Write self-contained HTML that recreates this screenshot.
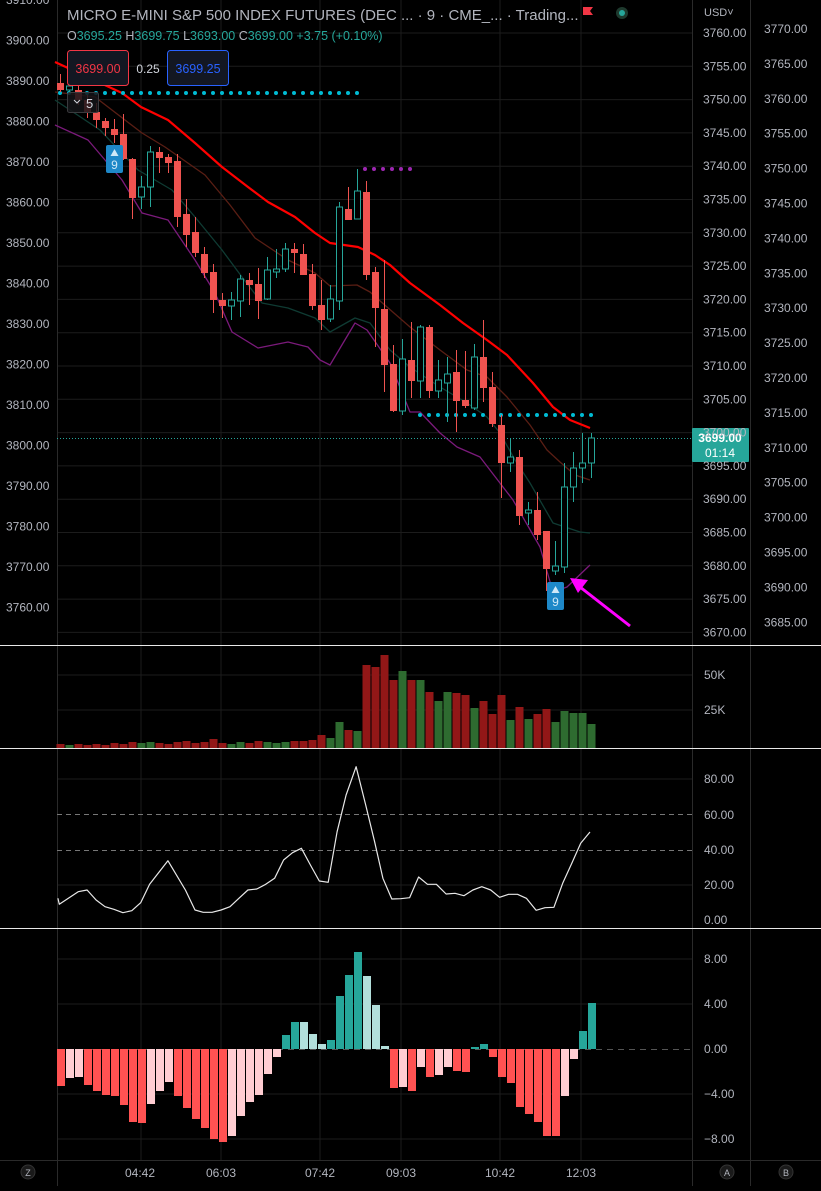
<!DOCTYPE html>
<html><head><meta charset="utf-8"><style>
html,body{margin:0;padding:0;background:#000;}
body{width:821px;height:1186px;overflow:hidden;font-family:"Liberation Sans",sans-serif;}
svg text{font-family:"Liberation Sans",sans-serif;}
</style></head><body>
<svg id="s" width="821" height="1186" xmlns="http://www.w3.org/2000/svg">
<rect width="821" height="1186" fill="#000"/>
<g id="grid"></g>
<g id="main"></g>
<g id="ax" font-size="12" fill="#b2b5be"></g>
<text x="67" y="20" font-size="15" fill="#b2b5be">MICRO E-MINI S&amp;P 500 INDEX FUTURES (DEC ...  · 9 · CME_...  · Trading...</text>
<text x="67" y="40" font-size="12.5" fill="#b2b5be">O<tspan fill="#26a69a">3695.25</tspan> H<tspan fill="#26a69a">3699.75</tspan> L<tspan fill="#26a69a">3693.00</tspan> C<tspan fill="#26a69a">3699.00</tspan> <tspan fill="#26a69a">+3.75 (+0.10%)</tspan></text>
<rect x="67.5" y="50.5" width="61" height="35" rx="3" fill="#131722" stroke="#f23645"/>
<text x="98" y="73" font-size="12.5" fill="#f23645" text-anchor="middle">3699.00</text>
<text x="148" y="73" font-size="12" fill="#d1d4dc" text-anchor="middle">0.25</text>
<rect x="167.5" y="50.5" width="61" height="35" rx="3" fill="#131722" stroke="#2962ff"/>
<text x="198" y="73" font-size="12.5" fill="#2962ff" text-anchor="middle">3699.25</text>
<rect x="67.5" y="92.5" width="31" height="20" rx="2" fill="rgba(20,20,24,0.85)" stroke="#3a3a3e"/>
<path d="M74 100 l3 3 l3 -3" stroke="#d1d4dc" fill="none"/>
<text x="86" y="108" font-size="13" fill="#d1d4dc">5</text>
<path d="M583 7 h10 l-3 4 l3 4 h-10 z" fill="#f23645"/>
<circle cx="622" cy="13" r="6" fill="#1e3a2e"/><circle cx="622" cy="13" r="3" fill="#26a69a"/>
<text x="704" y="16" font-size="11" fill="#b2b5be">USD˅</text>
</svg>
<script>
const s=document.getElementById('main'),g=document.getElementById('grid'),ax=document.getElementById('ax');
const NS='http://www.w3.org/2000/svg';
function el(p,t,a){const e=document.createElementNS(NS,t);for(const k in a)e.setAttribute(k,a[k]);p.appendChild(e);return e;}
function tx(p,x,y,t,a){const e=el(p,'text',Object.assign({x:x,y:y},a||{}));e.textContent=t;return e;}
const GC='#1c1c1c';
for(let k=0;k<19;k++){const y=33+33.3*k;el(g,'line',{x1:57,x2:692,y1:y,y2:y,stroke:GC});}
[141,221,320,401,500,581].forEach(x=>el(g,'line',{x1:x,x2:x,y1:0,y2:1160,stroke:GC}));
[675,710].forEach(y=>el(g,'line',{x1:57,x2:692,y1:y,y2:y,stroke:GC}));
[779,885].forEach(y=>el(g,'line',{x1:57,x2:692,y1:y,y2:y,stroke:GC}));
[959,1004,1094,1139].forEach(y=>el(g,'line',{x1:57,x2:692,y1:y,y2:y,stroke:GC}));
[57,692,750].forEach(x=>el(g,'line',{x1:x+.5,x2:x+.5,y1:0,y2:1186,stroke:'#2a2a2a'}));
el(g,'line',{x1:0,x2:821,y1:1160.5,y2:1160.5,stroke:'#2a2a2a'});
[645,748,928].forEach(y=>el(g,'line',{x1:0,x2:821,y1:y+.5,y2:y+.5,stroke:'#e8e8e8'}));
for(let k=0;k<16;k++){const p=3910-10*k;tx(ax,6,40.5*k+4,p.toFixed(2));}
for(let k=0;k<19;k++){const p=3760-5*k;tx(ax,703,33+33.3*k+4,p.toFixed(2));}
for(let k=0;k<18;k++){const p=3770-5*k;tx(ax,764,29+34.9*k+4,p.toFixed(2));}
tx(ax,704,679,'50K');tx(ax,704,714,'25K');
[['80.00',779],['60.00',815],['40.00',850],['20.00',885],['0.00',920]].forEach(a=>tx(ax,704,a[1]+4,a[0]));
[['8.00',959],['4.00',1004],['0.00',1049],['−4.00',1094],['−8.00',1139]].forEach(a=>tx(ax,704,a[1]+4,a[0]));
[['04:42',140],['06:03',221],['07:42',320],['09:03',401],['10:42',500],['12:03',581]].forEach(a=>tx(ax,a[1],1177,a[0],{'text-anchor':'middle'}));
[['Z',28],['A',727],['B',786]].forEach(a=>{el(ax,'circle',{cx:a[1],cy:1172,r:7,fill:'#1a1a1a',stroke:'#333'});tx(ax,a[1],1176,a[0],{'text-anchor':'middle','font-size':9});});
function pl(pts,c,w){el(s,'polyline',{points:pts.map(p=>p.join(',')).join(' '),fill:'none',stroke:c,'stroke-width':w,'stroke-linejoin':'round'});}
pl([[55,125],[88,140],[122,180],[142,213],[168,220],[195,260],[215,293],[232,332],[258,348],[288,342],[308,347],[320,360],[330,365],[355,323],[367,330],[390,363],[410,412],[420,412],[440,433],[457,447],[480,457],[513,500],[540,547],[553,592],[567,587],[590,565]],'#7b1a7b',1.3);
pl([[55,100],[100,130],[138,170],[172,190],[195,217],[222,250],[242,277],[262,303],[288,308],[315,318],[330,332],[355,318],[370,323],[390,350],[410,367],[440,387],[467,403],[487,417],[500,433],[515,460],[530,483],[553,523],[580,532],[590,533]],'#0f3b33',1.3);
pl([[55,92],[95,97],[142,133],[165,147],[205,175],[230,205],[255,238],[288,260],[315,273],[330,286],[357,285],[370,292],[387,307],[410,327],[440,350],[467,370],[487,377],[507,397],[530,425],[547,450],[560,462],[575,475],[590,480]],'#5a1e14',1.3);
pl([[55,62],[122,93],[141,107],[168,120],[195,143],[222,167],[248,187],[268,202],[295,217],[315,233],[330,243],[358,247],[375,255],[390,265],[410,283],[440,305],[463,323],[487,340],[507,355],[533,383],[553,407],[570,420],[590,428]],'#ff0000',2.2);
for(let x=60;x<=358;x+=9)el(s,'circle',{cx:x,cy:93,r:2,fill:'#00bcd4'});
for(let x=420;x<=592;x+=9)el(s,'circle',{cx:x,cy:415,r:2,fill:'#00bcd4'});
for(let x=365;x<=411;x+=9)el(s,'circle',{cx:x,cy:169,r:2,fill:'#9c27b0'});
el(s,'line',{x1:57,x2:692,y1:438.5,y2:438.5,stroke:'#26a69a','stroke-dasharray':'1,2'});
const C=[[83,90,74,92,0],[90,86,80,95,1],[90,100,85,105,0],[100,112,95,118,0],[112,120,103,128,0],[121,128,118,136,0],[129,135,119,143,0],[134,159,114,160,0],[159,198,158,219,0],[197,187,176,209,1],[187,152,146,207,1],[152,158,147,173,0],[157,163,154,173,0],[161,217,154,227,0],[214,235,199,247,0],[232,253,217,257,0],[254,273,247,278,0],[272,300,264,313,0],[300,306,293,318,0],[306,300,292,320,1],[301,279,275,317,1],[280,285,273,305,0],[284,301,268,319,0],[299,270,257,300,1],[272,269,249,278,1],[269,249,243,272,1],[249,253,243,273,0],[254,275,244,275,0],[274,306,264,310,0],[305,320,280,330,0],[319,299,285,322,1],[301,207,202,310,1],[209,220,187,220,0],[219,191,169,219,1],[192,275,181,280,0],[272,308,267,347,0],[309,365,260,392,0],[364,411,345,412,0],[411,359,339,415,1],[360,381,322,398,0],[381,327,325,398,1],[327,391,325,398,0],[391,380,360,398,1],[383,374,357,422,1],[372,401,350,432,0],[400,406,351,408,0],[408,357,344,410,1],[357,388,320,402,0],[387,424,372,427,0],[425,463,415,498,0],[463,457,438,472,1],[457,516,450,525,0],[513,510,502,525,1],[510,535,492,540,0],[531,569,531,591,0],[571,566,541,575,1],[567,487,463,573,1],[487,468,452,502,1],[468,463,433,483,1],[463,438,433,478,1]];
C.forEach((c,i)=>{const x=60+9*i,up=c[4],col=up?'#26a69a':'#ef5350';const t=Math.min(c[0],c[1]),b=Math.max(c[0],c[1]);
el(s,'line',{x1:x+.5,x2:x+.5,y1:c[2],y2:c[3],stroke:col});
if(up)el(s,'rect',{x:x-2.5,y:t,width:6,height:Math.max(b-t,1.5),fill:'#000',stroke:col});
else el(s,'rect',{x:x-3,y:t,width:7,height:Math.max(b-t,2),fill:col});});
const V0=[4,3,4,3,4,3,5,4,6,5,6,5,4,6,7,5,6,9,5,4,6,5,7,6,5,6,7];
const V1=[741,740,735,738,722,730,731,665,667,655,680,671,680,680,692,701,692,693,695,708,701,714,695,720,707,719,714,709,722,711,713,713,724];
C.forEach((c,i)=>{const x=60+9*i;const top=i<27?748-V0[i]:V1[i-27];el(s,'rect',{x:x-3.5,y:top,width:8,height:748-top,fill:c[4]?'#2e6b30':'#921717'});});
el(s,'line',{x1:57,x2:692,y1:814.5,y2:814.5,stroke:'#777','stroke-dasharray':'5,4'});
el(s,'line',{x1:57,x2:692,y1:850.5,y2:850.5,stroke:'#777','stroke-dasharray':'5,4'});
const R=[[8,445],[12,463],[65,425],[90,420],[115,450],[140,470],[165,478],[190,488],[215,482],[240,458],[265,403],[316,332],[365,420],[392,480],[415,487],[440,487],[465,480],[490,470],[515,445],[540,420],[565,417],[590,403],[615,385],[640,330],[665,308],[690,295],[715,345],[740,393],[765,397],[790,245],[815,135],[843,50],[870,165],[895,275],[918,385],[943,447],[968,446],[993,443],[1018,381],[1043,403],[1068,403],[1095,432],[1120,430],[1145,437],[1170,420],[1195,410],[1220,420],[1245,442],[1270,433],[1295,433],[1320,445],[1347,481],[1372,473],[1397,472],[1422,398],[1447,340],[1472,280],[1498,246]];
pl(R.map(p=>[(55+p[0]/2.8).toFixed(1),(750+p[1]/3).toFixed(1)]),'#e8e8e8',1.2);
el(s,'line',{x1:57,x2:692,y1:1049.5,y2:1049.5,stroke:'#555','stroke-dasharray':'6,5'});
const H=[[1086,'r'],[1078,'p'],[1077,'p'],[1085,'r'],[1091,'r'],[1095,'r'],[1096,'r'],[1105,'r'],[1122,'r'],[1123,'r'],[1104,'p'],[1091,'p'],[1082,'p'],[1096,'r'],[1108,'r'],[1119,'r'],[1128,'r'],[1139,'r'],[1142,'r'],[1136,'p'],[1116,'p'],[1102,'p'],[1095,'p'],[1074,'p'],[1057,'p'],[1035,'t'],[1022,'t'],[1022,'l'],[1034,'l'],[1044,'l'],[1040,'t'],[996,'t'],[975,'t'],[952,'t'],[976,'l'],[1005,'l'],[1046,'l'],[1088,'r'],[1087,'p'],[1091,'r'],[1067,'p'],[1077,'r'],[1075,'p'],[1067,'p'],[1071,'r'],[1072,'r'],[1047,'t'],[1044,'t'],[1057,'r'],[1077,'r'],[1083,'r'],[1107,'r'],[1114,'r'],[1122,'r'],[1136,'r'],[1136,'r'],[1096,'p'],[1059,'p'],[1031,'t'],[1003,'t']];
const HC={r:'#ff5252',p:'#ffcdd2',t:'#26a69a',l:'#b2dfdb'};
H.forEach((h,i)=>{const x=61+9*i,y=h[0],z=1049;el(s,'rect',{x:x-4,y:Math.min(y,z),width:8,height:Math.abs(y-z),fill:HC[h[1]]});});
el(s,'rect',{x:692,y:428,width:57,height:34,fill:'#26a69a',rx:1});
tx(s,720,442,'3699.00',{'font-size':12,fill:'#fff','text-anchor':'middle','font-weight':'bold'});
tx(s,720,457,'01:14',{'font-size':12,fill:'#fff','text-anchor':'middle'});
function badge(x,y){el(s,'rect',{x:x,y:y,width:17,height:28,rx:2,fill:'#1e88c8'});el(s,'path',{d:`M${x+8.5} ${y+4} l4 7 h-8 z`,fill:'#cfe8f7'});tx(s,x+8.5,y+24,'9',{'font-size':12,fill:'#cfe8f7','text-anchor':'middle'});}
badge(106,145);badge(547,582);
el(s,'line',{x1:630,y1:626,x2:580,y2:587,stroke:'#ff00ff','stroke-width':3});
el(s,'path',{d:'M570 578 L588 580 L578 593 Z',fill:'#ff00ff'});
</script>
</body></html>
